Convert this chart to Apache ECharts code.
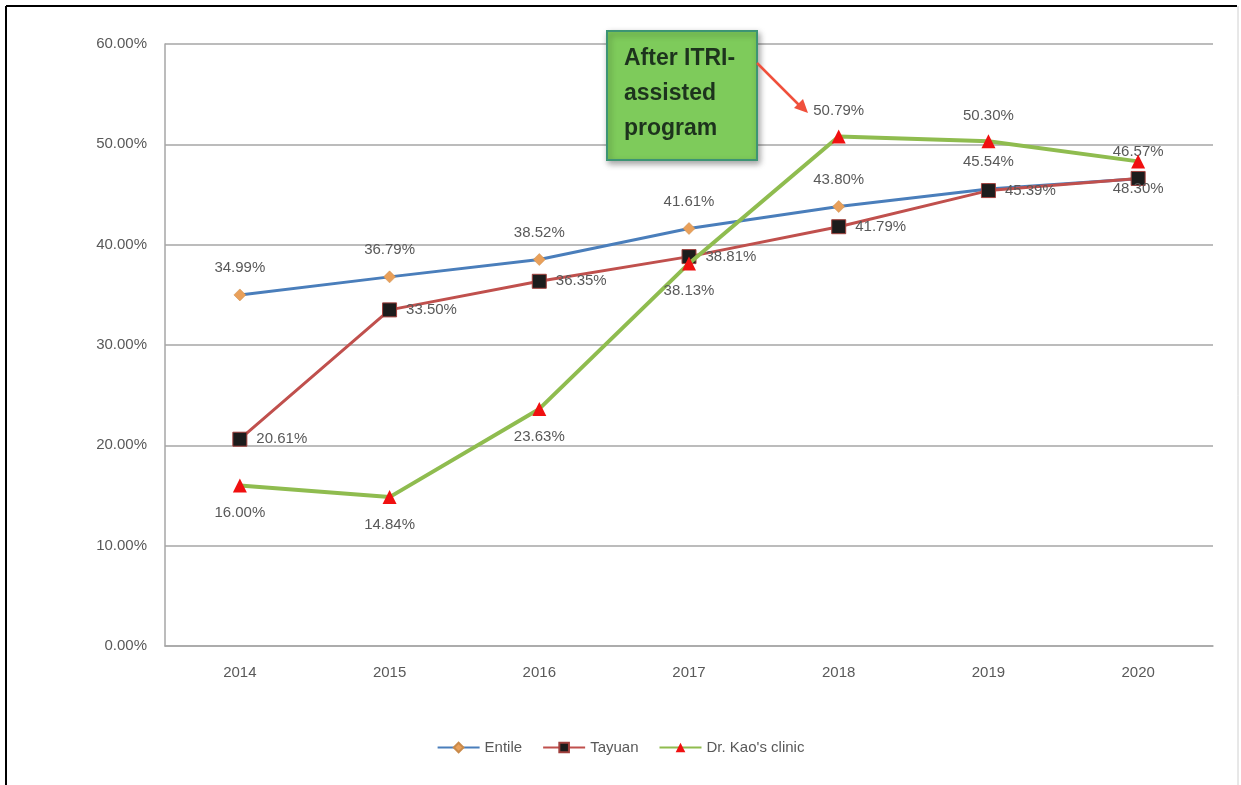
<!DOCTYPE html>
<html>
<head>
<meta charset="utf-8">
<script src="https://cdn.jsdelivr.net/npm/echarts@6/dist/echarts.min.js"></script>
<style>html,body{margin:0;padding:0;background:#fff;}#c{width:1241px;height:785px;}</style>
</head>
<body>
<div id="c"></div>
<script>
var years = ['2014','2015','2016','2017','2018','2019','2020'];
var entile = [34.99, 36.79, 38.52, 41.61, 43.80, 45.54, 46.57];
var tayuan = [20.61, 33.50, 36.35, 38.81, 41.79, 45.39, 46.60];
var drKao = [16.00, 14.84, 23.63, 38.13, 50.79, 50.30, 48.30];
var seriesNames = ['Entile', 'Tayuan', "Dr. Kao's clinic"];
var yTicks = [0, 10, 20, 30, 40, 50, 60];
var annotationText = 'After ITRI-\nassisted\nprogram';

var FONT = '"Liberation Sans", Arial, sans-serif';
var labelColor = '#595959';
function pct(v){ return v.toFixed(2) + '%'; }

function mkData(arr, posFn){
  return arr.map(function(v, i){
    var p = posFn(i);
    var d = {value: v};
    if (p === null) d.label = {show: false};
    else d.label = p;
    return d;
  });
}

var chart = echarts.init(document.getElementById('c'), null, {renderer: 'canvas'});
var option = {
  animation: false,
  backgroundColor: '#fff',
  grid: {left: 165, right: 28, top: 44, bottom: 139, containLabel: false},
  legend: {
    bottom: 25, left: 'center',
    itemWidth: 42, itemHeight: 12, itemGap: 20,
    textStyle: {color: labelColor, fontSize: 15, fontFamily: FONT},
    data: seriesNames
  },
  xAxis: {
    type: 'category', data: years, boundaryGap: true,
    axisLine: {show: true, lineStyle: {color: '#a6a6a6', width: 1.5}},
    axisTick: {show: false},
    axisLabel: {color: labelColor, fontSize: 15, fontFamily: FONT, margin: 19}
  },
  yAxis: {
    type: 'value', min: yTicks[0], max: yTicks[yTicks.length-1], interval: 10,
    axisLine: {show: true, lineStyle: {color: '#a6a6a6', width: 1.5}},
    axisTick: {show: false},
    splitLine: {lineStyle: {color: '#a6a6a6', width: 1.5}},
    axisLabel: {color: labelColor, fontSize: 15, fontFamily: FONT, margin: 18, formatter: function(v){ return pct(v); }}
  },
  series: [
    {
      name: seriesNames[0], type: 'line', z: 3,
      symbol: 'diamond', symbolSize: 12,
      lineStyle: {color: '#4a7ebb', width: 3},
      itemStyle: {color: '#e9a05a', borderColor: '#c98a4a', borderWidth: 0.5},
      label: {show: true, position: 'top', distance: 13, color: labelColor, fontSize: 15, fontFamily: FONT, formatter: function(p){ return pct(p.value); }},
      data: mkData(entile, function(i){ return {}; })
    },
    {
      name: seriesNames[1], type: 'line', z: 4,
      symbol: 'rect', symbolSize: 14,
      lineStyle: {color: '#c0504d', width: 3},
      itemStyle: {color: '#1c1c1c', borderColor: '#a0403d', borderWidth: 1},
      label: {show: true, position: 'right', distance: 9, color: labelColor, fontSize: 15, fontFamily: FONT, formatter: function(p){ return pct(p.value); }},
      data: mkData(tayuan, function(i){ return i === 6 ? null : {}; })
    },
    {
      name: seriesNames[2], type: 'line', z: 5,
      symbol: 'triangle', symbolSize: 14,
      lineStyle: {color: '#8fbc4f', width: 4},
      itemStyle: {color: '#f01010', borderColor: '#f01010', borderWidth: 0},
      label: {show: true, position: 'bottom', distance: 13, color: labelColor, fontSize: 15, fontFamily: FONT, formatter: function(p){ return pct(p.value); }},
      data: mkData(drKao, function(i){ return (i === 4 || i === 5) ? {position: 'top', distance: 11} : {}; })
    }
  ],
  graphic: [
    {type: 'line', shape: {x1: 6, y1: 6, x2: 1237, y2: 6}, style: {stroke: '#000', lineWidth: 2}, z: 100},
    {type: 'line', shape: {x1: 6, y1: 6, x2: 6, y2: 785}, style: {stroke: '#000', lineWidth: 2}, z: 100},
    {type: 'line', shape: {x1: 1238, y1: 6, x2: 1238, y2: 785}, style: {stroke: '#d0d0d0', lineWidth: 1}, z: 100},
    {
      type: 'rect', shape: {x: 607, y: 31, width: 150, height: 129},
      style: {fill: '#7ecb5b', stroke: '#3d9474', lineWidth: 2, shadowBlur: 6, shadowColor: 'rgba(0,0,0,0.35)', shadowOffsetX: 2, shadowOffsetY: 3},
      z: 100
    },
    {
      type: 'text', x: 624, y: 41, z: 101,
      style: {text: annotationText, fill: '#1d331d', font: 'bold 23px ' + FONT, lineHeight: 35}
    },
    {type: 'line', shape: {x1: 757, y1: 63, x2: 800, y2: 106}, style: {stroke: '#f0503c', lineWidth: 2.5}, z: 101},
    {type: 'polygon', shape: {points: [[808, 113], [794, 108], [803, 99]]}, style: {fill: '#f0503c'}, z: 101}
  ]
};
chart.setOption(option);
</script>
</body>
</html>
